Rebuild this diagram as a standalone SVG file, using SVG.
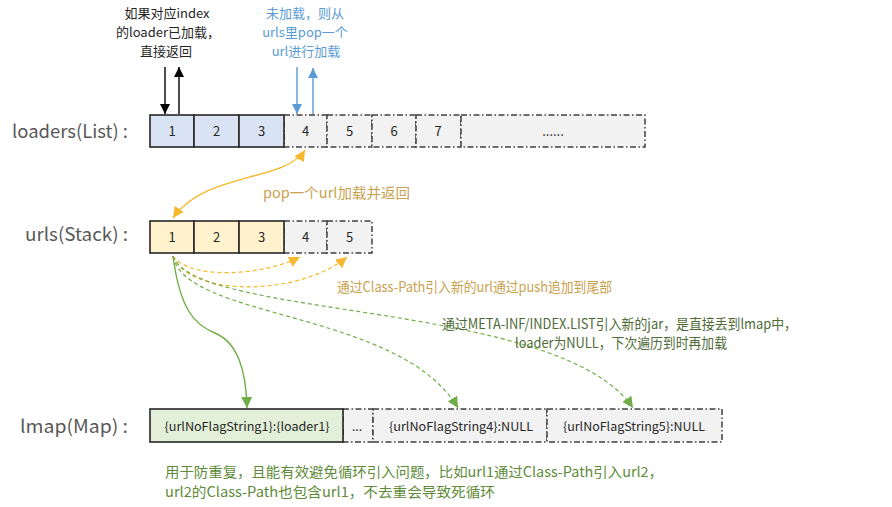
<svg xmlns="http://www.w3.org/2000/svg" width="892" height="507" viewBox="0 0 892 507">
<style>
text{font-family:"Noto Sans CJK SC","Noto Sans",sans-serif}
.lbl{font-size:18px;fill:#595959}
.num{font-size:13px;fill:#262626;text-anchor:middle}
.map{font-size:12px;fill:#262626;text-anchor:middle}
.solid{stroke:#262626;stroke-width:1.6}
.dd{fill:#f2f2f2;stroke:#404040;stroke-width:1.5;stroke-dasharray:6 2.5 1.5 2.5}
.note{font-size:14px}
.top{font-size:13px}
</style>
<defs>
<marker id="mk" viewBox="0 0 10 10" refX="10" refY="5" markerWidth="10" markerHeight="10" markerUnits="userSpaceOnUse" orient="auto"><path d="M0,0 L10,5 L0,10 z" fill="#000"/></marker>
<marker id="mb" viewBox="0 0 10 10" refX="10" refY="5" markerWidth="10" markerHeight="10" markerUnits="userSpaceOnUse" orient="auto"><path d="M0,0 L10,5 L0,10 z" fill="#5b9bd5"/></marker>
<marker id="mo" viewBox="0 0 10 10" refX="10" refY="5" markerWidth="11" markerHeight="11" markerUnits="userSpaceOnUse" orient="auto-start-reverse"><path d="M0,0 L10,5 L0,10 z" fill="#f5b82e"/></marker>
<marker id="mg" viewBox="0 0 10 10" refX="10" refY="5" markerWidth="11" markerHeight="11" markerUnits="userSpaceOnUse" orient="auto"><path d="M0,0 L10,5 L0,10 z" fill="#70ad47"/></marker>
</defs>
<rect width="892" height="507" fill="#fff"/>

<g id="label-loaders"><text class="lbl" x="12" y="138" textLength="116" lengthAdjust="spacingAndGlyphs">loaders(List) :</text></g>
<g id="label-urls"><text class="lbl" x="25" y="241" textLength="103" lengthAdjust="spacingAndGlyphs">urls(Stack) :</text></g>
<g id="label-lmap"><text class="lbl" x="20" y="433" textLength="108" lengthAdjust="spacingAndGlyphs">lmap(Map) :</text></g>

<g id="loaders">
<g id="loader-4"><rect class="dd" x="284" y="115" width="43" height="32"/><text class="num" x="305.5" y="136">4</text></g>
<g id="loader-5"><rect class="dd" x="327" y="115" width="45" height="32"/><text class="num" x="349.5" y="136">5</text></g>
<g id="loader-6"><rect class="dd" x="372" y="115" width="44" height="32"/><text class="num" x="394" y="136">6</text></g>
<g id="loader-7"><rect class="dd" x="416" y="115" width="45" height="32"/><text class="num" x="438" y="136">7</text></g>
<g id="loader-more"><rect class="dd" x="461" y="115" width="184" height="32"/><text class="num" x="553" y="136">......</text></g>
<g id="loader-1"><rect class="solid" fill="#dae3f3" x="150" y="115" width="44" height="32"/><text class="num" x="172" y="136">1</text></g>
<g id="loader-2"><rect class="solid" fill="#dae3f3" x="194" y="115" width="45" height="32"/><text class="num" x="216.5" y="136">2</text></g>
<g id="loader-3"><rect class="solid" fill="#dae3f3" x="239" y="115" width="45" height="32"/><text class="num" x="261.5" y="136">3</text></g>
</g>

<g id="urls">
<g id="url-4"><rect class="dd" x="284" y="221" width="43" height="32"/><text class="num" x="305.5" y="242">4</text></g>
<g id="url-5"><rect class="dd" x="327" y="221" width="45" height="32"/><text class="num" x="349.5" y="242">5</text></g>
<g id="url-1"><rect class="solid" fill="#fff2cc" x="150" y="221" width="44" height="32"/><text class="num" x="172" y="242">1</text></g>
<g id="url-2"><rect class="solid" fill="#fff2cc" x="194" y="221" width="45" height="32"/><text class="num" x="216.5" y="242">2</text></g>
<g id="url-3"><rect class="solid" fill="#fff2cc" x="239" y="221" width="45" height="32"/><text class="num" x="261.5" y="242">3</text></g>
</g>

<g id="lmap">
<g id="lmap-more"><rect class="dd" x="343" y="409" width="30" height="33"/><text class="map" x="357" y="431">...</text></g>
<g id="lmap-4"><rect class="dd" x="373" y="409" width="174" height="33"/><text class="map" x="461" y="431" textLength="144" lengthAdjust="spacingAndGlyphs">{urlNoFlagString4}:NULL</text></g>
<g id="lmap-5"><rect class="dd" x="547" y="409" width="175" height="33"/><text class="map" x="634" y="431" textLength="142" lengthAdjust="spacingAndGlyphs">{urlNoFlagString5}:NULL</text></g>
<g id="lmap-1"><rect class="solid" fill="#e2f0d9" x="150" y="409" width="193" height="33"/><text class="map" x="247" y="431" textLength="165" lengthAdjust="spacingAndGlyphs">{urlNoFlagString1}:{loader1}</text></g>
</g>

<g id="connectors" fill="none">
<path d="M165 67 L165 114" stroke="#000" stroke-width="1.4" marker-end="url(#mk)"/>
<path d="M179 114 L179 67" stroke="#000" stroke-width="1.4" marker-end="url(#mk)"/>
<path d="M297 67 L297 114" stroke="#5b9bd5" stroke-width="1.4" marker-end="url(#mb)"/>
<path d="M313 114 L313 68" stroke="#5b9bd5" stroke-width="1.4" marker-end="url(#mb)"/>
<path d="M305 150 C285 182, 205 172, 173 218" stroke="#f5b82e" stroke-width="1.4" marker-start="url(#mo)" marker-end="url(#mo)"/>
<path d="M173 256 C190 280, 262 276, 300 257" stroke="#f5b82e" stroke-width="1.2" stroke-dasharray="4 3" marker-end="url(#mo)"/>
<path d="M173 256 C190 298, 300 296, 347 257" stroke="#f5b82e" stroke-width="1.2" stroke-dasharray="4 3" marker-end="url(#mo)"/>
<path d="M173 256 C180 310, 195 325, 215 333 C238 343, 246 370, 247 408" stroke="#70ad47" stroke-width="1.4" marker-end="url(#mg)"/>
<path d="M173 256 C185 320, 400 310, 458 408" stroke="#70ad47" stroke-width="1.2" stroke-dasharray="4 3" marker-end="url(#mg)"/>
<path d="M173 256 C195 320, 560 300, 633 408" stroke="#70ad47" stroke-width="1.2" stroke-dasharray="4 3" marker-end="url(#mg)"/>
</g>

<g id="note-loaded" class="top" fill="#262626" text-anchor="middle">
<text x="167" y="18">如果对应index</text>
<text x="168" y="37">的loader已加载，</text>
<text x="166" y="56">直接返回</text>
</g>
<g id="note-notloaded" class="top" fill="#5b9bd5" text-anchor="middle">
<text x="305" y="18">未加载，则从</text>
<text x="305" y="37">urls里pop一个</text>
<text x="306" y="56">url进行加载</text>
</g>
<g id="note-pop"><text class="note" x="263" y="198" fill="#c9a24f" textLength="147" lengthAdjust="spacingAndGlyphs">pop一个url加载并返回</text></g>
<g id="note-push"><text class="note" x="337" y="292" fill="#c9a24f" textLength="275" lengthAdjust="spacingAndGlyphs">通过Class-Path引入新的url通过push追加到尾部</text></g>
<g id="note-meta" class="note" fill="#4e6b38">
<text x="442" y="329" textLength="355" lengthAdjust="spacingAndGlyphs">通过META-INF/INDEX.LIST引入新的jar，是直接丢到lmap中，</text>
<text x="515" y="348" textLength="212" lengthAdjust="spacingAndGlyphs">loader为NULL，下次遍历到时再加载</text>
</g>
<g id="note-dedup" class="note" fill="#5e8c3a">
<text x="165" y="477" textLength="498" lengthAdjust="spacingAndGlyphs">用于防重复，且能有效避免循环引入问题，比如url1通过Class-Path引入url2，</text>
<text x="165" y="497" textLength="330" lengthAdjust="spacingAndGlyphs">url2的Class-Path也包含url1，不去重会导致死循环</text>
</g>
</svg>
